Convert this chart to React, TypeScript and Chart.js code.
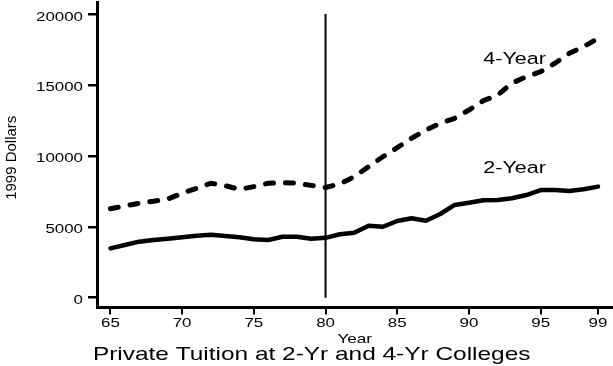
import React, { useEffect, useRef } from "react";
import { Chart, registerables } from "chart.js";

Chart.register(...registerables);

// Academic years (19xx) and private tuition in constant 1999 dollars
const years = [
  65, 66, 67, 68, 69, 70, 71, 72, 73, 74, 75, 76, 77, 78, 79, 80, 81, 82,
  83, 84, 85, 86, 87, 88, 89, 90, 91, 92, 93, 94, 95, 96, 97, 98, 99,
];
const fourYear = [
  6270, 6470, 6660, 6800, 6960, 7360, 7710, 8070, 7900, 7640, 7830, 8070,
  8110, 8070, 7920, 7770, 8020, 8530, 9240, 9940, 10580, 11240, 11820, 12300,
  12650, 13230, 13890, 14290, 15120, 15580, 15930, 16530, 17230, 17700, 18290,
];
const twoYear = [
  3480, 3720, 3950, 4070, 4160, 4260, 4370, 4440, 4350, 4260, 4120, 4070,
  4300, 4300, 4160, 4220, 4470, 4580, 5080, 5000, 5410, 5600, 5430, 5900,
  6540, 6700, 6870, 6890, 7010, 7240, 7590, 7590, 7520, 7640, 7830,
];
const xTicks = [65, 70, 75, 80, 85, 90, 95, 99];
const yTicks = [0, 5000, 10000, 15000, 20000];
const dividerYear = 80;
const dividerRange = [0, 20000];
const seriesLabels = ["4-Year", "2-Year"];
const seriesLabelYear = 91;
const seriesLabelValues = [16500, 8800];

const FONT = '"Liberation Sans", Arial, Helvetica, sans-serif';
const STRETCH = 1.32; // wide sans lettering

function drawWide(
  ctx: CanvasRenderingContext2D,
  text: string,
  x: number,
  y: number,
  size: number,
  align: "left" | "center" | "right"
) {
  ctx.save();
  ctx.font = `${size}px ${FONT}`;
  ctx.textBaseline = "alphabetic";
  ctx.textAlign = "left";
  const w = ctx.measureText(text).width * STRETCH;
  let x0 = x;
  if (align === "center") x0 = x - w / 2;
  else if (align === "right") x0 = x - w;
  ctx.translate(x0, y);
  ctx.scale(STRETCH, 1);
  ctx.fillStyle = "#000";
  ctx.fillText(text, 0, 0);
  ctx.restore();
}

const lettering = {
  id: "lettering",
  afterDraw(chart: any) {
    const ctx: CanvasRenderingContext2D = chart.ctx;
    const xs = chart.scales.x;
    const ys = chart.scales.y;
    const area = chart.chartArea;

    yTicks.forEach((v) => {
      drawWide(ctx, String(v), 83, ys.getPixelForValue(v) + 6.5, 12.8, "right");
    });
    xTicks.forEach((v) => {
      drawWide(ctx, String(v), xs.getPixelForValue(v), xs.top + 19.8, 12.8, "center");
    });
    drawWide(ctx, "Year", (area.left + area.right) / 2, xs.top + 35, 13, "center");
    drawWide(ctx, "Private Tuition at 2-Yr and 4-Yr Colleges", 311.7, 359.8, 18.5, "center");

    seriesLabels.forEach((t, i) => {
      drawWide(
        ctx,
        t,
        xs.getPixelForValue(seriesLabelYear),
        ys.getPixelForValue(seriesLabelValues[i]),
        16.3,
        "left"
      );
    });

    ctx.save();
    ctx.font = `15px ${FONT}`;
    ctx.fillStyle = "#000";
    ctx.textAlign = "center";
    ctx.textBaseline = "alphabetic";
    ctx.translate(15.5, (area.top + area.bottom) / 2 + 3);
    ctx.rotate(-Math.PI / 2);
    ctx.fillText("1999 Dollars", 0, 0);
    ctx.restore();
  },
};

export default function App() {
  const canvasRef = useRef<HTMLCanvasElement | null>(null);

  useEffect(() => {
    const canvas = canvasRef.current;
    if (!canvas) return;
    const toPoints = (vals: number[]) => years.map((x, i) => ({ x, y: vals[i] }));

    const chart = new Chart(canvas, {
      type: "line",
      data: {
        datasets: [
          {
            label: seriesLabels[0],
            data: toPoints(fourYear),
            borderColor: "#000",
            borderWidth: 5,
            borderDash: [8, 12],
            borderCapStyle: "round",
            borderJoinStyle: "round",
            pointRadius: 0,
            tension: 0,
            fill: false,
          },
          {
            label: seriesLabels[1],
            data: toPoints(twoYear),
            borderColor: "#000",
            borderWidth: 4.5,
            borderCapStyle: "round",
            borderJoinStyle: "round",
            pointRadius: 0,
            tension: 0,
            fill: false,
          },
          {
            label: "divider",
            data: dividerRange.map((y) => ({ x: dividerYear, y })),
            borderColor: "#000",
            borderWidth: 2,
            pointRadius: 0,
            fill: false,
          },
        ],
      },
      options: {
        animation: false,
        responsive: false,
        devicePixelRatio: 1,
        layout: { padding: { left: 0, top: 2, right: 1, bottom: 0 } },
        plugins: {
          legend: { display: false },
          tooltip: { enabled: false },
          title: { display: false },
        },
        scales: {
          x: {
            type: "linear",
            min: 64.1,
            max: 99.975,
            afterBuildTicks: (s: any) => {
              s.ticks = xTicks.map((value) => ({ value }));
            },
            afterFit: (s: any) => {
              s.height = 58.5;
            },
            ticks: { display: false },
            grid: {
              drawOnChartArea: false,
              drawTicks: true,
              tickLength: 7,
              color: "#000",
              lineWidth: 2,
            },
            border: { display: true, color: "#000", width: 3 },
          },
          y: {
            type: "linear",
            min: -690,
            max: 20846,
            afterBuildTicks: (s: any) => {
              s.ticks = yTicks.map((value) => ({ value }));
            },
            afterFit: (s: any) => {
              s.width = 97.5;
            },
            ticks: { display: false },
            grid: {
              drawOnChartArea: false,
              drawTicks: true,
              tickLength: 9.5,
              color: "#000",
              lineWidth: 2.5,
            },
            border: { display: true, color: "#000", width: 3 },
          },
        },
      },
      plugins: [lettering],
    } as any);

    return () => chart.destroy();
  }, []);

  return (
    <div style={{ position: "fixed", left: 0, top: 0, width: 613, height: 366, background: "#fff" }}>
      <canvas ref={canvasRef} width={613} height={366} style={{ display: "block" }} />
    </div>
  );
}
